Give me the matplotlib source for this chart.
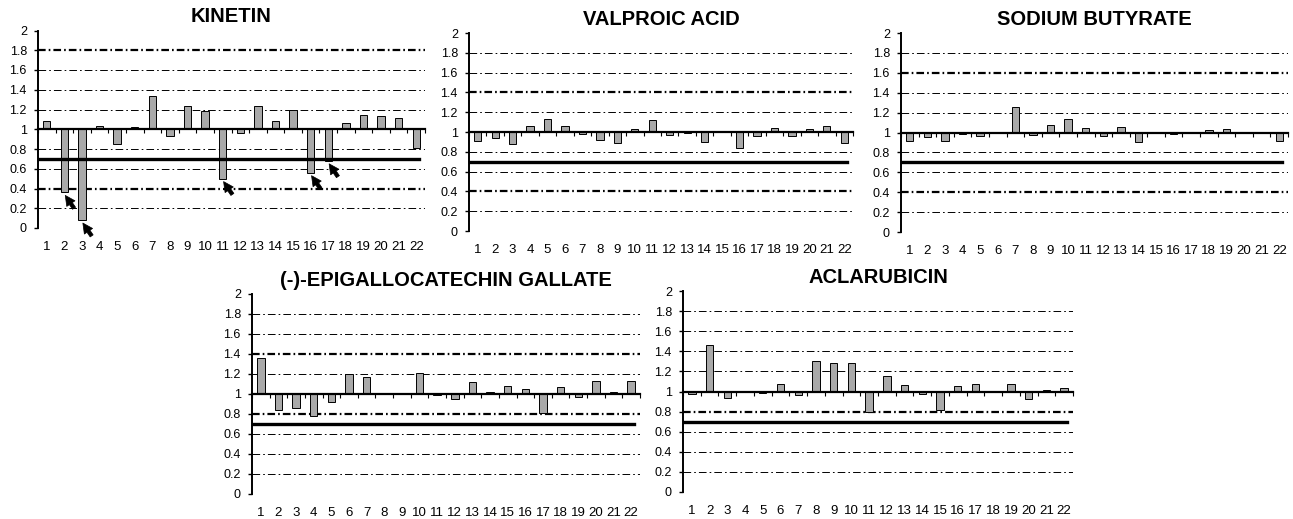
import numpy as np
import matplotlib
matplotlib.use("Agg")
import matplotlib.pyplot as plt

plt.rcParams['font.family'] = ['Liberation Sans', 'DejaVu Sans']
plt.rcParams['lines.scale_dashes'] = False

# Data
categories = list(range(1, 23))

kinetin = [1.08, 0.36, 0.08, 1.03, 0.85, 1.02, 1.34, 0.93, 1.24, 1.18, 0.50,
           0.96, 1.24, 1.08, 1.20, 0.56, 0.68, 1.06, 1.14, 1.13, 1.11, 0.81]
valproic = [0.91, 0.94, 0.88, 1.06, 1.13, 1.06, 0.98, 0.92, 0.89, 1.03, 1.12,
            0.97, 0.99, 0.90, 1.01, 0.84, 0.96, 1.04, 0.96, 1.03, 1.06, 0.89]
sodium = [0.91, 0.95, 0.91, 0.98, 0.96, 1.01, 1.26, 0.97, 1.08, 1.14, 1.05,
          0.96, 1.06, 0.90, 1.005, 0.98, 1.005, 1.03, 1.04, 0.99, 0.99, 0.91]
egcg = [1.36, 0.84, 0.86, 0.78, 0.92, 1.20, 1.17, 1.0, 1.0, 1.21, 0.99,
        0.95, 1.12, 1.02, 1.08, 1.05, 0.81, 1.07, 0.97, 1.13, 1.02, 1.13]
aclarubicin = [0.98, 1.46, 0.94, 0.995, 0.99, 1.07, 0.97, 1.30, 1.28, 1.28, 0.80,
               1.15, 1.06, 0.98, 0.82, 1.05, 1.07, 0.995, 1.07, 0.93, 1.01, 1.03]

kinetin_arrows = [2, 3, 11, 16, 17]

yticks = [0, 0.2, 0.4, 0.6, 0.8, 1, 1.2, 1.4, 1.6, 1.8, 2]
ytick_labels = ['0', '0.2', '0.4', '0.6', '0.8', '1', '1.2', '1.4', '1.6', '1.8', '2']
grid_levels = [0.2, 0.4, 0.6, 0.8, 1.2, 1.4, 1.6, 1.8]

W, H = 1293, 519
fig = plt.figure(figsize=(W / 100, H / 100), dpi=100)


def px_rect(x0, x1, ytop, ybot):
    return [x0 / W, 1 - ybot / H, (x1 - x0) / W, (ybot - ytop) / H]


def panel(rect, title, values, thick, arrows=None):
    ax = fig.add_axes(rect)
    ax.set_xlim(0.5, 22.5)
    ax.set_ylim(0, 2)

    dash = (0, (5.5, 2.2, 1.2, 2.2))
    for g in grid_levels:
        lw = 1.6 if g in thick else 0.7
        ax.axhline(g, color='black', lw=lw, linestyle=dash, zorder=0)

    ax.axhline(0.7, xmax=0.985, color='black', lw=2.4, zorder=3)

    vals = np.array(values)
    ax.bar(categories, vals - 1, bottom=1, width=0.42, color='#a9a9a9',
           edgecolor='black', linewidth=0.7, zorder=2)

    if arrows:
        for i in arrows:
            v = values[i - 1]
            ax.annotate('', xy=(i + 0.05, v - 0.03), xytext=(i + 0.55, v - 0.16),
                        arrowprops=dict(arrowstyle='simple,head_width=0.55,head_length=0.55,tail_width=0.2',
                                        color='black', lw=0.5, mutation_scale=13,
                                        shrinkA=0, shrinkB=0))

    for s in ['top', 'right']:
        ax.spines[s].set_visible(False)
    ax.spines['left'].set_linewidth(1.4)
    ax.spines['bottom'].set_position(('data', 1))
    ax.spines['bottom'].set_linewidth(1.6)

    ax.set_xticks(np.arange(0.5, 23.0, 1.0))
    ax.set_xticklabels([])
    ax.tick_params(axis='x', direction='out', length=3, width=0.8)
    ax.set_yticks(yticks)
    ax.set_yticklabels(ytick_labels)
    ax.tick_params(axis='y', direction='out', length=3, width=1.0, labelsize=9, pad=5)

    for c in categories:
        ax.annotate(str(c), xy=(c, 0), xycoords=('data', 'axes fraction'),
                    xytext=(0, -14), textcoords='offset points',
                    ha='center', va='center', fontsize=9.5)

    ax.set_title(title, fontsize=14.5, fontweight='bold', pad=6)
    return ax


panel(px_rect(38, 425, 30.5, 228), 'KINETIN', kinetin, [1.8, 0.4], kinetin_arrows)
panel(px_rect(469, 853, 33, 231), 'VALPROIC ACID', valproic, [1.4, 0.4])
panel(px_rect(901, 1288, 33, 232), 'SODIUM BUTYRATE', sodium, [1.6, 0.4])
panel(px_rect(252, 640, 294, 494), '(-)-EPIGALLOCATECHIN GALLATE', egcg, [1.4, 0.8])
panel(px_rect(683, 1073, 291, 492), 'ACLARUBICIN', aclarubicin, [0.8])

fig.savefig('out.png', dpi=100)
